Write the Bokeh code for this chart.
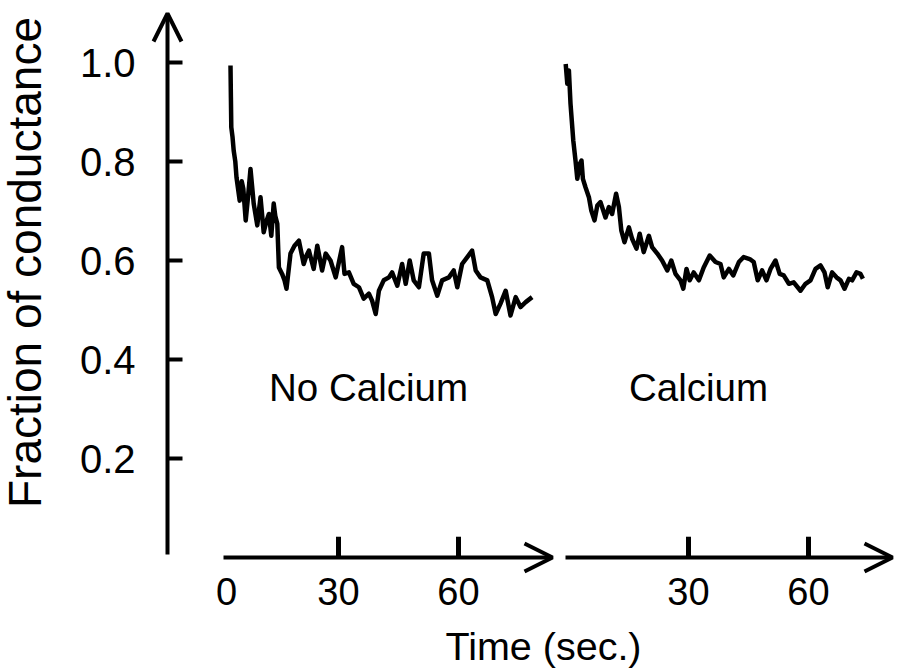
from bokeh.plotting import figure
from bokeh.models import Arrow, OpenHead, Range1d
from bokeh.core.properties import value
from bokeh.embed import file_html
from bokeh.resources import INLINE
import math

# ---------------- data ----------------
# Panel 1: "No Calcium" trace (time in s, fraction of conductance)
t_nocal = [3.0, 3.1, 3.2, 3.5, 3.8, 4.2, 4.5, 5.3, 5.8, 6.2, 6.8, 7.4, 8.0, 8.4, 8.8, 9.7, 10.1,
           10.5, 11.3, 12.0, 12.6, 13.2, 13.8, 14.2, 14.7, 15.1, 15.9, 16.5, 17.0, 18.0, 19.0,
           20.1, 21.3, 22.0, 22.6, 23.8, 24.7, 25.9, 26.8, 28.0, 29.3, 30.9, 31.5, 32.6, 33.8,
           35.1, 36.3, 37.6, 38.4, 39.3, 40.1, 41.3, 42.6, 43.4, 44.7, 45.9, 46.8, 47.8, 48.8,
           50.1, 51.3, 52.6, 53.4, 54.7, 55.9, 57.6, 58.8, 59.7, 60.9, 62.2, 63.4, 64.3, 65.5,
           67.2, 68.4, 69.3, 70.5, 71.8, 73.0, 74.3, 75.5, 76.8, 78.4]
v_nocal = [0.994, 0.93, 0.869, 0.85, 0.822, 0.80, 0.768, 0.721, 0.76, 0.745, 0.681, 0.73, 0.785,
           0.75, 0.715, 0.671, 0.70, 0.728, 0.657, 0.68, 0.694, 0.650, 0.715, 0.69, 0.674, 0.586,
           0.573, 0.56, 0.543, 0.614, 0.63, 0.640, 0.593, 0.61, 0.620, 0.583, 0.630, 0.580, 0.614,
           0.600, 0.566, 0.627, 0.573, 0.576, 0.553, 0.546, 0.523, 0.533, 0.519, 0.492, 0.539,
           0.560, 0.566, 0.576, 0.549, 0.593, 0.553, 0.600, 0.560, 0.546, 0.614, 0.614, 0.560,
           0.529, 0.560, 0.566, 0.580, 0.546, 0.593, 0.607, 0.620, 0.580, 0.566, 0.560, 0.526,
           0.492, 0.513, 0.539, 0.489, 0.526, 0.506, 0.516, 0.526]

# Panel 2: "Calcium" trace
t_cal = [-0.7, -0.3, 0.1, 0.5, 1.2, 1.75, 2.2, 2.8, 3.25, 3.6, 4.25, 5.1, 5.7, 6.5, 7.2, 8.0,
         9.25, 10.1, 10.9, 11.9, 12.6, 13.2, 14.0, 15.1, 15.9, 17.0, 17.8, 18.8, 20.1, 20.9,
         22.2, 23.4, 24.7, 25.7, 26.75, 28.0, 28.7, 29.5, 30.3, 31.3, 32.6, 33.8, 35.3, 36.75,
         38.0, 38.8, 40.1, 41.2, 42.6, 43.8, 45.3, 46.3, 47.3, 48.4, 49.5, 50.5, 51.75, 52.8,
         53.8, 55.1, 56.3, 58.0, 59.25, 60.5, 61.75, 63.0, 64.0, 64.8, 65.9, 67.0, 68.0, 69.0,
         70.1, 70.9, 72.0, 73.0, 73.6]
v_cal = [0.997, 0.957, 0.984, 0.917, 0.842, 0.802, 0.765, 0.795, 0.802, 0.765, 0.748, 0.728,
         0.701, 0.681, 0.711, 0.718, 0.687, 0.708, 0.694, 0.735, 0.708, 0.661, 0.637, 0.667,
         0.644, 0.624, 0.654, 0.617, 0.650, 0.627, 0.614, 0.600, 0.580, 0.600, 0.573, 0.560,
         0.543, 0.583, 0.560, 0.576, 0.560, 0.586, 0.610, 0.597, 0.593, 0.566, 0.583, 0.570,
         0.597, 0.607, 0.603, 0.597, 0.560, 0.580, 0.560, 0.583, 0.600, 0.573, 0.570, 0.553,
         0.556, 0.539, 0.553, 0.560, 0.583, 0.590, 0.576, 0.546, 0.576, 0.566, 0.560, 0.543,
         0.563, 0.560, 0.576, 0.573, 0.563]

y_ticks = [0.2, 0.4, 0.6, 0.8, 1.0]
y_tick_labels = ["0.2", "0.4", "0.6", "0.8", "1.0"]
x_ticks = [30, 60]
p1_tick_labels_pos = [0, 30, 60]
p1_tick_labels = ["0", "30", "60"]
p2_tick_labels_pos = [30, 60]
p2_tick_labels = ["30", "60"]
panel_labels = ["No Calcium", "Calcium"]

# ---------------- layout constants ----------------
OFFSET = 87.5          # x shift of the second panel (s)
FONT = value("Liberation Sans")
BLACK = "#000000"

p = figure(width=900, height=672, output_backend="svg", toolbar_location=None,
           x_range=Range1d(-54.5, 170.5), y_range=Range1d(-0.2323, 1.1253),
           x_axis_location=None, y_axis_location=None, min_border=0)
p.outline_line_color = None
p.xgrid.visible = False
p.ygrid.visible = False
p.background_fill_color = "white"
p.border_fill_color = "white"

# traces
p.line(t_nocal, v_nocal, line_color=BLACK, line_width=4.5, line_join="round")
p.line([t + OFFSET for t in t_cal], v_cal, line_color=BLACK, line_width=4.5, line_join="round")

# y axis with arrow
YAX = -12.75
p.add_layout(Arrow(end=OpenHead(size=28, line_width=4, line_color=BLACK),
                   x_start=YAX, y_start=0.006, x_end=YAX, y_end=1.099,
                   line_width=4, line_color=BLACK))
p.segment(x0=[YAX] * len(y_ticks), y0=y_ticks, x1=[-9.0] * len(y_ticks), y1=y_ticks,
          line_color=BLACK, line_width=4)
p.text(x=[-20.75] * len(y_ticks), y=y_ticks, text=y_tick_labels, text_font=FONT,
       text_font_size="40px", text_align="right", text_baseline="middle", text_color=BLACK)

# x axes with arrows
p.add_layout(Arrow(end=OpenHead(size=28, line_width=4, line_color=BLACK),
                   x_start=1.25, y_start=0, x_end=83.5, y_end=0,
                   line_width=4, line_color=BLACK))
p.add_layout(Arrow(end=OpenHead(size=28, line_width=4, line_color=BLACK),
                   x_start=OFFSET - 0.75, y_start=0, x_end=OFFSET + 81.0, y_end=0,
                   line_width=4, line_color=BLACK))
xt_all = x_ticks + [x + OFFSET for x in x_ticks]
p.segment(x0=xt_all, y0=[0] * len(xt_all), x1=xt_all, y1=[0.042] * len(xt_all),
          line_color=BLACK, line_width=5)
p.text(x=[x + 2.0 if x == 0 else x for x in p1_tick_labels_pos],
       y=[-0.069] * len(p1_tick_labels_pos),
       text=p1_tick_labels, text_font=FONT, text_font_size="38px",
       text_align="center", text_baseline="middle", text_color=BLACK)
p.text(x=[x + OFFSET for x in p2_tick_labels_pos], y=[-0.069] * len(p2_tick_labels_pos),
       text=p2_tick_labels, text_font=FONT, text_font_size="38px",
       text_align="center", text_baseline="middle", text_color=BLACK)

# panel labels
p.text(x=[37.5, 32.5 + OFFSET], y=[0.343, 0.343], text=panel_labels, text_font=FONT,
       text_font_size="38.5px", text_align="center", text_baseline="middle", text_color=BLACK)

# axis titles
p.text(x=[81.25], y=[-0.178], text=["Time (sec.)"], text_font=FONT, text_font_size="39.5px",
       text_align="center", text_baseline="middle", text_color=BLACK)
p.text(x=[-48.5], y=[0.596], text=["Fraction of conductance"], text_font=FONT,
       text_font_size="46px", text_align="center", text_baseline="middle",
       angle=math.pi / 2, text_color=BLACK)

open("out.html", "w").write(file_html(p, INLINE))
